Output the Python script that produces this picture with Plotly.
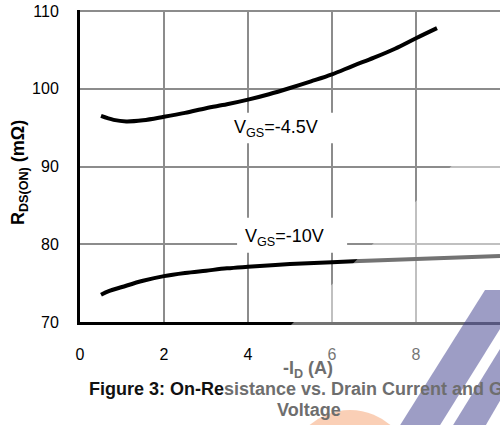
import plotly.graph_objects as go

# Data
id_45 = [0.5, 0.8, 1.1, 1.5, 2.0, 2.5, 3.0, 3.5, 4.0, 4.5, 5.0, 5.5, 6.0, 6.5, 7.0, 7.5, 8.0, 8.5]
r_45 = [96.5, 96.0, 95.8, 95.95, 96.4, 96.9, 97.5, 98.0, 98.6, 99.3, 100.1, 100.95, 101.85, 102.95, 104.0, 105.15, 106.5, 107.8]

id_10 = [0.5, 0.7, 1.0, 1.5, 2.0, 2.5, 3.0, 3.5, 4.0, 5.0, 6.0, 7.0, 8.0, 9.0, 10.0]
r_10 = [73.5, 74.0, 74.5, 75.3, 75.9, 76.3, 76.6, 76.9, 77.1, 77.45, 77.7, 77.9, 78.1, 78.3, 78.5]

x_ticks = [0, 2, 4, 6, 8, 10]
y_ticks = [70, 80, 90, 100, 110]

label_45 = "V<sub>GS</sub>=-4.5V"
label_10 = "V<sub>GS</sub>=-10V"
GRAY = "#6e6e6e"
x_title = f"<b><span style='color:{GRAY}'>-I<sub>D</sub> (A)</span></b>"
y_title = "<b>R<sub>DS(ON)</sub> (mΩ)</b>"
caption1 = f"<b>Figure 3: On-Re<span style='color:{GRAY}'>sistance vs. Drain Current and Gate</span></b>"
caption2 = f"<b><span style='color:{GRAY}'>Voltage</span></b>"

FONT = "Liberation Sans, Arial, sans-serif"

W, H = 500, 425
PL, PR, PT, PB = 80, 500, 10, 322   # plot area in page pixels


def px(x):
    return (x - PL) / (PR - PL)


def py(y):
    return (PB - y) / (PB - PT)


def poly(points):
    return "M " + " L ".join(f"{px(a):.4f},{py(b):.4f}" for a, b in points) + " Z"


fig = go.Figure()
fig.add_trace(go.Scatter(x=id_45, y=r_45, mode="lines", line=dict(color="black", width=4, shape="spline"), showlegend=False))
fig.add_trace(go.Scatter(x=id_10, y=r_10, mode="lines", line=dict(color="black", width=4, shape="spline"), showlegend=False))

# white label boxes (between grid and traces)
fig.add_shape(type="rect", x0=3.48, x1=6.24, y0=93.0, y1=96.9, fillcolor="white", line_width=0, layer="between")
fig.add_shape(type="rect", x0=3.74, x1=6.36, y0=78.9, y1=83.4, fillcolor="white", line_width=0, layer="between")

# watermark: translucent white wash, blue strokes, orange disc
fig.add_shape(type="path", xref="paper", yref="paper", layer="above", line_width=0,
              fillcolor="rgba(255,255,255,0.45)",
              path=poly([(185, 430), (505, 113), (505, 430)]))
fig.add_shape(type="circle", xref="paper", yref="paper", layer="above", line_width=0,
              fillcolor="rgba(245,160,110,0.5)",
              x0=px(288), x1=px(412), y0=py(534), y1=py(410))
fig.add_shape(type="path", xref="paper", yref="paper", layer="above", line_width=0,
              fillcolor="rgba(60,60,140,0.5)",
              path=poly([(397, 430), (437, 430), (505, 321), (505, 290), (485, 290)]))
fig.add_shape(type="path", xref="paper", yref="paper", layer="above", line_width=0,
              fillcolor="rgba(60,60,140,0.5)",
              path=poly([(450, 430), (483, 430), (505, 392), (505, 341)]))

fig.add_annotation(x=4.67, y=94.85, text=label_45, showarrow=False, xanchor="center", yanchor="middle",
                   font=dict(size=18, color="black", family=FONT))
fig.add_annotation(x=4.86, y=80.85, text=label_10, showarrow=False, xanchor="center", yanchor="middle",
                   font=dict(size=18, color="black", family=FONT))

fig.add_annotation(xref="paper", yref="paper", x=px(308), y=py(369), text=x_title, showarrow=False,
                   xanchor="center", yanchor="middle", font=dict(size=18, color="black", family=FONT))
fig.add_annotation(xref="paper", yref="paper", x=px(20), y=py(173), text=y_title, showarrow=False, textangle=-90,
                   xanchor="center", yanchor="middle", font=dict(size=18, color="black", family=FONT))
fig.add_annotation(xref="paper", yref="paper", x=px(309), y=py(389), text=caption1, showarrow=False,
                   xanchor="center", yanchor="middle", font=dict(size=18, color="#111111", family=FONT))
fig.add_annotation(xref="paper", yref="paper", x=px(309), y=py(410), text=caption2, showarrow=False,
                   xanchor="center", yanchor="middle", font=dict(size=18, color="#111111", family=FONT))

fig.update_xaxes(range=[0, 10], tickvals=x_ticks, ticktext=[str(v) for v in x_ticks],
                 showgrid=True, gridcolor="#8c8c8c", gridwidth=2,
                 showline=True, linecolor="black", linewidth=3,
                 ticks="outside", ticklen=16, tickcolor="rgba(0,0,0,0)",
                 tickfont=dict(size=16, color="black", family=FONT), zeroline=False, fixedrange=True)
fig.update_yaxes(range=[70, 110.13], tickvals=y_ticks, ticktext=[str(v) for v in y_ticks],
                 showgrid=True, gridcolor="#8c8c8c", gridwidth=2,
                 showline=True, linecolor="black", linewidth=3,
                 ticks="outside", ticklen=15, tickcolor="rgba(0,0,0,0)",
                 tickfont=dict(size=16, color="black", family=FONT), zeroline=False, fixedrange=True)

fig.update_layout(width=W, height=H,
                  margin=dict(l=PL, r=W - PR, t=PT, b=H - PB),
                  paper_bgcolor="white", plot_bgcolor="white",
                  font=dict(family=FONT, color="black"))

fig.write_html("out.html", config={"displayModeBar": False},
               post_script="document.body.style.margin='0';document.body.style.overflow='hidden';")
